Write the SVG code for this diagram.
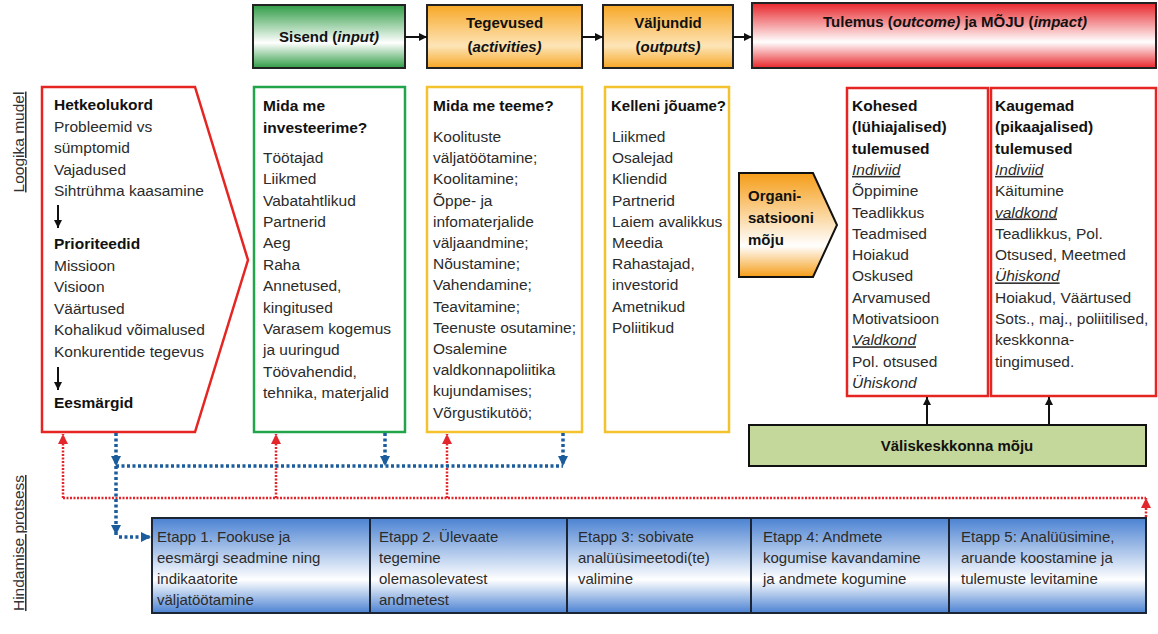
<svg xmlns="http://www.w3.org/2000/svg" width="1158" height="634" viewBox="0 0 1158 634">
<defs>
<linearGradient id="gG" x1="0" y1="0" x2="0" y2="1"><stop offset="0" stop-color="#2f9c45"/><stop offset="0.6" stop-color="#ffffff"/><stop offset="1" stop-color="#2f9c45"/></linearGradient>
<linearGradient id="gO" x1="0" y1="0" x2="0" y2="1"><stop offset="0" stop-color="#f7a726"/><stop offset="0.65" stop-color="#fde5b8"/><stop offset="1" stop-color="#f7a726"/></linearGradient>
<linearGradient id="gR" x1="0" y1="0" x2="0" y2="1"><stop offset="0" stop-color="#e8262b"/><stop offset="0.6" stop-color="#ffffff"/><stop offset="1" stop-color="#e8262b"/></linearGradient>
<linearGradient id="gB" x1="0" y1="0" x2="0" y2="1"><stop offset="0" stop-color="#4b82d2"/><stop offset="0.65" stop-color="#ffffff"/><stop offset="1" stop-color="#4b82d2"/></linearGradient>
<linearGradient id="gOrg" x1="0" y1="0" x2="0" y2="1"><stop offset="0" stop-color="#f59d17"/><stop offset="0.7" stop-color="#ffffff"/><stop offset="1" stop-color="#f59d17"/></linearGradient>
<marker id="aBlk" viewBox="0 0 10 10" refX="10" refY="5" markerWidth="8" markerHeight="8" markerUnits="userSpaceOnUse" orient="auto"><path d="M0,0 L10,5 L0,10 z" fill="#111"/></marker>
<marker id="aRed" viewBox="0 0 10 10" refX="10" refY="5" markerWidth="10" markerHeight="10" markerUnits="userSpaceOnUse" orient="auto"><path d="M0,0 L10,5 L0,10 z" fill="#e3262b"/></marker>
<marker id="aBlue" viewBox="0 0 10 10" refX="10" refY="5" markerWidth="10" markerHeight="11" markerUnits="userSpaceOnUse" orient="auto"><path d="M0,0 L10,5 L0,10 z" fill="#1b5c9c"/></marker>
</defs>
<style>
text{font-family:"Liberation Sans",Arial,sans-serif;font-size:15.5px;fill:#2b2b2b}
.b{font-weight:bold;fill:#111}
.hd{font-weight:bold;font-size:15px;fill:#111}
.iu{font-style:italic;text-decoration:underline}
.i{font-style:italic}
.e{font-size:15px}
.side{text-decoration:underline;fill:#333}
.hbox{stroke:#222;stroke-width:2}
.rd{fill:none;stroke:#e3262b;stroke-width:2.5;stroke-dasharray:2 1.5}
.bl{fill:none;stroke:#1b5c9c;stroke-width:3.5;stroke-dasharray:3 2.5}
.blk{fill:none;stroke:#111;stroke-width:2}
</style>
<rect width="1158" height="634" fill="#ffffff"/>

<text class="side" font-size="15.5" transform="translate(24,142) rotate(-90)" text-anchor="middle">Loogika mudel</text>
<text class="side" font-size="14" transform="translate(24,543) rotate(-90)" text-anchor="middle">Hindamise protsess</text>

<g id="h-sisend">
<rect class="hbox" x="253" y="5" width="152" height="63" fill="url(#gG)"/>
<text class="hd" x="329" y="42" text-anchor="middle">Sisend (<tspan font-style="italic">input)</tspan></text>
</g>
<g id="h-tegevused">
<rect class="hbox" x="427" y="5" width="155" height="63" fill="url(#gO)"/>
<text class="hd" x="504.5" y="28" text-anchor="middle">Tegevused</text>
<text class="hd" x="504.5" y="52" text-anchor="middle">(<tspan font-style="italic">activities)</tspan></text>
</g>
<g id="h-valjundid">
<rect class="hbox" x="603" y="5" width="130" height="63" fill="url(#gO)"/>
<text class="hd" x="668" y="28" text-anchor="middle">Väljundid</text>
<text class="hd" x="668" y="52" text-anchor="middle">(<tspan font-style="italic">outputs)</tspan></text>
</g>
<g id="h-tulemus">
<rect class="hbox" x="752" y="3" width="404" height="65" fill="url(#gR)"/>
<text class="hd" x="955" y="27" text-anchor="middle">Tulemus (<tspan font-style="italic">outcome)</tspan> ja MÕJU (<tspan font-style="italic">impact)</tspan></text>
</g>

<g id="n-hetkeolukord">
<polygon points="42,87 195,87 248,260 195,432 42,432" fill="#fff" stroke="#e52521" stroke-width="2.5"/>
<text x="54" y="110" class="b">Hetkeolukord</text>
<text x="54" y="131.5">Probleemid vs</text>
<text x="54" y="153">sümptomid</text>
<text x="54" y="174.5">Vajadused</text>
<text x="54" y="196">Sihtrühma kaasamine</text>
<path class="blk" d="M58,205 V228" marker-end="url(#aBlk)"/>
<text x="54" y="249" class="b">Prioriteedid</text>
<text x="54" y="270.5">Missioon</text>
<text x="54" y="292">Visioon</text>
<text x="54" y="313.5">Väärtused</text>
<text x="54" y="335">Kohalikud võimalused</text>
<text x="54" y="356.5">Konkurentide tegevus</text>
<path class="blk" d="M58,367 V390" marker-end="url(#aBlk)"/>
<text x="54" y="408" class="b">Eesmärgid</text>
</g>

<g id="n-investeerime">
<rect x="254" y="87" width="151" height="345" fill="#fff" stroke="#22a44b" stroke-width="2.5"/>
<text x="263" y="111" class="b">Mida me</text>
<text x="263" y="133" class="b">investeerime?</text>
<text x="263" y="163">Töötajad</text>
<text x="263" y="184.4">Liikmed</text>
<text x="263" y="205.7">Vabatahtlikud</text>
<text x="263" y="227.1">Partnerid</text>
<text x="263" y="248.4">Aeg</text>
<text x="263" y="269.8">Raha</text>
<text x="263" y="291.2">Annetused,</text>
<text x="263" y="312.5">kingitused</text>
<text x="263" y="333.9">Varasem kogemus</text>
<text x="263" y="355.2">ja uuringud</text>
<text x="263" y="376.6">Töövahendid,</text>
<text x="263" y="398">tehnika, materjalid</text>
</g>

<g id="n-teeme">
<rect x="427" y="87" width="155" height="345" fill="#fff" stroke="#f4c12f" stroke-width="2.5"/>
<text x="433" y="111" class="b">Mida me teeme?</text>
<text x="433" y="142">Koolituste</text>
<text x="433" y="163.2">väljatöötamine;</text>
<text x="433" y="184.4">Koolitamine;</text>
<text x="433" y="205.6">Õppe- ja</text>
<text x="433" y="226.8">infomaterjalide</text>
<text x="433" y="248">väljaandmine;</text>
<text x="433" y="269.2">Nõustamine;</text>
<text x="433" y="290.4">Vahendamine;</text>
<text x="433" y="311.6">Teavitamine;</text>
<text x="433" y="332.8">Teenuste osutamine;</text>
<text x="433" y="354">Osalemine</text>
<text x="433" y="375.2">valdkonnapoliitika</text>
<text x="433" y="396.4">kujundamises;</text>
<text x="433" y="417.6">Võrgustikutöö;</text>
</g>

<g id="n-jouame">
<rect x="605" y="87" width="124" height="345" fill="#fff" stroke="#f4c12f" stroke-width="2.5"/>
<text x="611" y="111" class="hd">Kelleni jõuame?</text>
<text x="612" y="142">Liikmed</text>
<text x="612" y="163.2">Osalejad</text>
<text x="612" y="184.4">Kliendid</text>
<text x="612" y="205.6">Partnerid</text>
<text x="612" y="226.8">Laiem avalikkus</text>
<text x="612" y="248">Meedia</text>
<text x="612" y="269.2">Rahastajad,</text>
<text x="612" y="290.4">investorid</text>
<text x="612" y="311.6">Ametnikud</text>
<text x="612" y="332.8">Poliitikud</text>
</g>

<g id="n-organisatsioon">
<polygon points="739,173 813,173 837,225 813,277 739,277" fill="url(#gOrg)" stroke="#111" stroke-width="2"/>
<text x="748" y="201" class="hd">Organi-</text>
<text x="748" y="223" class="hd">satsiooni</text>
<text x="748" y="245" class="hd">mõju</text>
</g>

<g id="n-kohesed">
<rect x="847" y="88" width="141" height="308" fill="#fff" stroke="#e52521" stroke-width="2.5"/>
<text x="852" y="111" class="b">Kohesed</text>
<text x="852" y="132.3" class="b">(lühiajalised)</text>
<text x="852" y="153.6" class="b">tulemused</text>
<text x="852" y="174.9" class="iu">Indiviid</text>
<text x="852" y="196.2">Õppimine</text>
<text x="852" y="217.5">Teadlikkus</text>
<text x="852" y="238.8">Teadmised</text>
<text x="852" y="260.1">Hoiakud</text>
<text x="852" y="281.4">Oskused</text>
<text x="852" y="302.7">Arvamused</text>
<text x="852" y="324">Motivatsioon</text>
<text x="852" y="345.3" class="iu">Valdkond</text>
<text x="852" y="366.6">Pol. otsused</text>
<text x="852" y="387.9" class="i">Ühiskond</text>
</g>

<g id="n-kaugemad">
<rect x="991" y="88" width="165" height="308" fill="#fff" stroke="#e52521" stroke-width="2.5"/>
<text x="995" y="111" class="b">Kaugemad</text>
<text x="995" y="132.3" class="b">(pikaajalised)</text>
<text x="995" y="153.6" class="b">tulemused</text>
<text x="995" y="174.9" class="iu">Indiviid</text>
<text x="995" y="196.2">Käitumine</text>
<text x="995" y="217.5" class="iu">valdkond</text>
<text x="995" y="238.8">Teadlikkus, Pol.</text>
<text x="995" y="260.1">Otsused, Meetmed</text>
<text x="995" y="281.4" class="iu">Ühiskond</text>
<text x="995" y="302.7">Hoiakud, Väärtused</text>
<text x="995" y="324">Sots., maj., poliitilised,</text>
<text x="995" y="345.3">keskkonna-</text>
<text x="995" y="366.6">tingimused.</text>
</g>

<g id="n-valiskeskkond">
<rect x="749" y="425" width="397" height="41" fill="#c4d89c" stroke="#111" stroke-width="2"/>
<text x="957" y="451" class="hd" text-anchor="middle">Väliskeskkonna mõju</text>
</g>

<g id="n-etapid">
<rect x="152" y="518" width="994" height="95" fill="url(#gB)" stroke="#1c2534" stroke-width="2"/>
<path d="M370,518 V613 M567,518 V613 M751,518 V613 M949,518 V613" stroke="#1c2534" stroke-width="2"/>
<g id="etapp1">
<text class="e" x="157" y="542">Etapp 1. Fookuse ja</text>
<text class="e" x="157" y="563">eesmärgi seadmine ning</text>
<text class="e" x="157" y="584">indikaatorite</text>
<text class="e" x="157" y="605">väljatöötamine</text>
</g>
<g id="etapp2">
<text class="e" x="379" y="542">Etapp 2. Ülevaate</text>
<text class="e" x="379" y="563">tegemine</text>
<text class="e" x="379" y="584">olemasolevatest</text>
<text class="e" x="379" y="605">andmetest</text>
</g>
<g id="etapp3">
<text class="e" x="578" y="542">Etapp 3: sobivate</text>
<text class="e" x="578" y="563">analüüsimeetodi(te)</text>
<text class="e" x="578" y="584">valimine</text>
</g>
<g id="etapp4">
<text class="e" x="763" y="542">Etapp 4: Andmete</text>
<text class="e" x="763" y="563">kogumise kavandamine</text>
<text class="e" x="763" y="584">ja andmete kogumine</text>
</g>
<g id="etapp5">
<text class="e" x="961" y="542">Etapp 5: Analüüsimine,</text>
<text class="e" x="961" y="563">aruande koostamine ja</text>
<text class="e" x="961" y="584">tulemuste levitamine</text>
</g>
</g>

<g id="connectors">
<path class="blk" d="M405,37 H427" marker-end="url(#aBlk)"/>
<path class="blk" d="M582,37 H603" marker-end="url(#aBlk)"/>
<path class="blk" d="M733,37 H752" marker-end="url(#aBlk)"/>
<path class="blk" d="M927,425 V397" marker-end="url(#aBlk)"/>
<path class="blk" d="M1049,425 V397" marker-end="url(#aBlk)"/>

<path class="rd" d="M63,498 H1146"/>
<path class="rd" d="M63,498 V434" marker-end="url(#aRed)"/>
<path class="rd" d="M276,498 V434" marker-end="url(#aRed)"/>
<path class="rd" d="M447,498 V434" marker-end="url(#aRed)"/>
<path class="rd" d="M1146,517 V498" marker-end="url(#aRed)"/>

<path class="bl" d="M116,466 H563"/>
<path class="bl" d="M116,433 V466" marker-end="url(#aBlue)"/>
<path class="bl" d="M385,433 V466" marker-end="url(#aBlue)"/>
<path class="bl" d="M563,433 V466" marker-end="url(#aBlue)"/>
<path class="bl" d="M116,466 V535" marker-end="url(#aBlue)"/>
<path class="bl" d="M119,537 H151" marker-end="url(#aBlue)"/>
</g>
</svg>
